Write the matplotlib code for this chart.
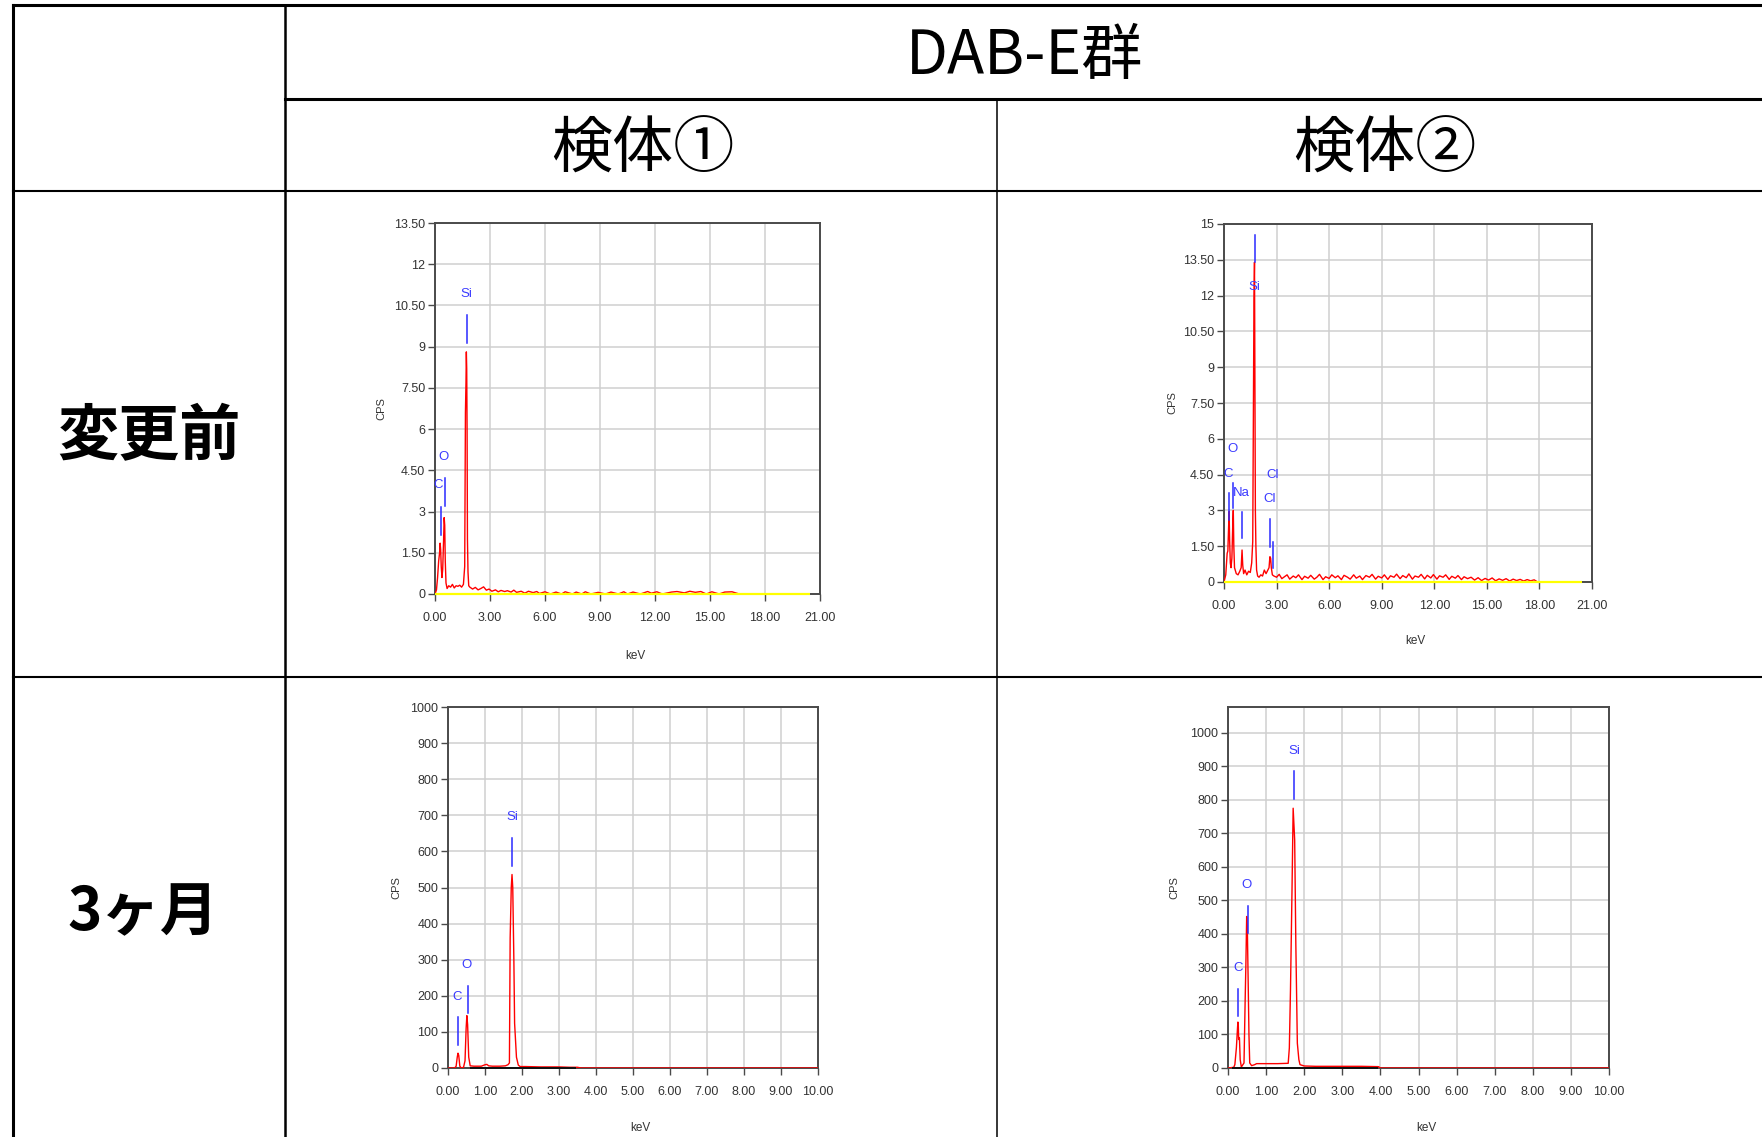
import matplotlib.pyplot as plt
from matplotlib.lines import Line2D

# 見出しは日本語フォント、スペクトルの目盛りは細めの欧文フォント
plt.rcParams['font.family'] = ['Noto Sans CJK JP', 'DejaVu Sans']
spec_font = ['Liberation Sans Narrow', 'Liberation Sans', 'DejaVu Sans']

W, H = 1762, 1137  # 出力サイズ(px)

# 表の見出し
group_title = 'DAB-E群'
sample_names = ['検体①', '検体②']
period_names = ['変更前', '3ヶ月']

# EDSスペクトル (keV, cps)
# 変更前・検体①
pre_1 = [(0.00, 0.0), (0.08, 0.15), (0.14, 0.6), (0.20, 1.2), (0.25, 1.5), (0.28, 1.85),
         (0.31, 1.6), (0.34, 1.0), (0.38, 0.6), (0.42, 0.9), (0.47, 2.0), (0.50, 2.78),
         (0.53, 2.5), (0.56, 1.2), (0.60, 0.4), (0.66, 0.2), (0.75, 0.3), (0.85, 0.25),
         (0.95, 0.35), (1.05, 0.22), (1.15, 0.3), (1.25, 0.28), (1.35, 0.32), (1.45, 0.25),
         (1.55, 0.35), (1.62, 1.0), (1.66, 6.6), (1.69, 7.7), (1.71, 8.81), (1.73, 8.2),
         (1.75, 6.0), (1.77, 2.0), (1.80, 0.8), (1.84, 0.3), (1.90, 0.25), (2.05, 0.18),
         (2.20, 0.24), (2.35, 0.15), (2.50, 0.2), (2.65, 0.26), (2.80, 0.14), (2.95, 0.18),
         (3.10, 0.1), (3.30, 0.15), (3.45, 0.08), (3.60, 0.13), (3.80, 0.09), (3.95, 0.12),
         (4.15, 0.07), (4.30, 0.14), (4.45, 0.06), (4.70, 0.1), (4.90, 0.03), (5.10, 0.1),
         (5.35, 0.05), (5.55, 0.09), (5.70, 0.02), (6.00, 0.08), (6.30, 0.0), (6.60, 0.07),
         (6.90, 0.0), (7.10, 0.08), (7.50, 0.0), (7.70, 0.07), (8.00, 0.0), (8.20, 0.08),
         (8.50, 0.0), (8.90, 0.06), (9.30, 0.0), (9.60, 0.07), (10.0, 0.0), (10.3, 0.08),
         (10.5, 0.0), (10.8, 0.07), (11.2, 0.0), (11.6, 0.09), (11.8, 0.03), (12.1, 0.08),
         (12.4, 0.0), (12.9, 0.07), (13.2, 0.09), (13.6, 0.04), (13.9, 0.1), (14.2, 0.06),
         (14.5, 0.09), (14.8, 0.0), (15.1, 0.08), (15.5, 0.0), (15.8, 0.07), (16.2, 0.08),
         (16.6, 0.0)]

# 変更前・検体②
pre_2 = [(0.00, 0.0), (0.10, 0.3), (0.18, 1.2), (0.22, 1.3), (0.26, 2.2), (0.29, 2.95),
         (0.32, 1.8), (0.36, 0.8), (0.40, 0.6), (0.45, 1.0), (0.50, 2.4), (0.53, 3.0),
         (0.56, 1.5), (0.60, 0.6), (0.70, 0.35), (0.80, 0.3), (0.90, 0.45), (0.98, 0.6),
         (1.03, 1.34), (1.07, 0.7), (1.12, 0.35), (1.20, 0.5), (1.30, 0.3), (1.40, 0.45),
         (1.50, 0.4), (1.58, 0.8), (1.64, 1.7), (1.68, 7.6), (1.71, 11.8), (1.74, 13.4),
         (1.76, 9.0), (1.79, 3.0), (1.82, 1.5), (1.86, 0.5), (1.92, 0.25), (2.00, 0.2),
         (2.10, 0.3), (2.20, 0.25), (2.30, 0.5), (2.40, 0.35), (2.50, 0.5), (2.57, 0.6),
         (2.62, 1.06), (2.66, 1.0), (2.70, 0.6), (2.76, 0.3), (2.85, 0.25), (3.00, 0.2),
         (3.15, 0.32), (3.30, 0.14), (3.45, 0.22), (3.60, 0.3), (3.75, 0.12), (3.95, 0.25),
         (4.10, 0.18), (4.25, 0.3), (4.45, 0.1), (4.60, 0.24), (4.80, 0.16), (4.95, 0.28),
         (5.15, 0.12), (5.30, 0.2), (5.45, 0.32), (5.65, 0.1), (5.80, 0.22), (6.00, 0.15),
         (6.15, 0.3), (6.35, 0.18), (6.50, 0.26), (6.70, 0.1), (6.85, 0.28), (7.05, 0.2),
         (7.20, 0.12), (7.40, 0.3), (7.55, 0.16), (7.75, 0.25), (7.90, 0.1), (8.10, 0.27),
         (8.30, 0.2), (8.45, 0.32), (8.65, 0.12), (8.80, 0.24), (9.00, 0.17), (9.15, 0.3),
         (9.35, 0.11), (9.50, 0.26), (9.70, 0.2), (9.85, 0.33), (10.05, 0.14), (10.2, 0.27),
         (10.4, 0.18), (10.55, 0.34), (10.75, 0.12), (10.9, 0.25), (11.1, 0.2), (11.25, 0.32),
         (11.45, 0.13), (11.6, 0.28), (11.8, 0.17), (11.95, 0.31), (12.15, 0.12), (12.3, 0.26),
         (12.5, 0.2), (12.65, 0.3), (12.85, 0.11), (13.0, 0.24), (13.2, 0.16), (13.35, 0.27),
         (13.55, 0.1), (13.7, 0.22), (13.9, 0.14), (14.1, 0.2), (14.3, 0.08), (14.5, 0.18),
         (14.7, 0.06), (14.9, 0.15), (15.1, 0.08), (15.3, 0.17), (15.5, 0.05), (15.7, 0.13),
         (15.9, 0.07), (16.1, 0.14), (16.3, 0.04), (16.5, 0.12), (16.7, 0.06), (16.9, 0.11),
         (17.1, 0.04), (17.3, 0.1), (17.5, 0.05), (17.7, 0.09), (17.9, 0.0)]

# 3ヶ月・検体①
m3_1 = [(0.00, 0), (0.18, 0), (0.22, 5), (0.25, 30), (0.27, 41), (0.29, 35), (0.32, 5),
        (0.36, 0), (0.42, 2), (0.46, 20), (0.49, 110), (0.51, 145), (0.53, 120), (0.56, 30),
        (0.60, 6), (0.70, 5), (0.90, 5), (1.00, 9), (1.05, 10), (1.10, 6), (1.20, 5),
        (1.40, 5), (1.55, 6), (1.62, 9), (1.66, 14), (1.68, 360), (1.71, 500), (1.73, 536),
        (1.75, 500), (1.78, 300), (1.80, 124), (1.85, 30), (1.90, 8), (1.95, 4), (2.10, 4),
        (2.50, 3), (3.00, 3), (3.30, 2), (3.50, 2), (3.60, 0), (10.0, 0)]

# 3ヶ月・検体②
m3_2 = [(0.00, 0), (0.15, 2), (0.18, 10), (0.22, 60), (0.25, 120), (0.26, 137), (0.27, 130),
        (0.28, 85), (0.30, 90), (0.32, 25), (0.35, 3), (0.42, 15), (0.45, 200), (0.47, 313),
        (0.49, 452), (0.51, 400), (0.53, 253), (0.55, 100), (0.57, 15), (0.62, 7), (0.70, 10),
        (0.75, 13), (1.00, 13), (1.30, 13), (1.58, 14), (1.61, 60), (1.64, 233), (1.68, 531),
        (1.71, 775), (1.75, 680), (1.78, 372), (1.82, 74), (1.86, 25), (1.89, 10), (2.00, 6),
        (2.30, 5), (3.00, 5), (3.50, 5), (3.95, 4), (4.00, 0), (10.0, 0)]

# バックグラウンド線
base_pre_1 = [(0.0, 0), (20.45, 0)]
base_pre_2 = [(0.0, 0), (20.45, 0)]
base_m3_1 = [(0.6, 1), (3.45, 1)]
base_m3_2 = [(0.1, 1), (3.95, 1)]

# ピーク同定: 元素, 縦線のkeV, 縦線下端, 縦線上端, ラベルkeV, ラベル高さ
peaks_pre_1 = [('C', 0.31, 2.15, 3.18, 0.18, 3.97),
               ('O', 0.56, 3.21, 4.21, 0.49, 4.98),
               ('Si', 1.73, 9.14, 10.15, 1.73, 10.93)]
peaks_pre_2 = [('C', 0.30, 2.6, 3.72, 0.23, 4.52),
               ('O', 0.53, 3.09, 4.16, 0.48, 5.56),
               ('Na', 1.03, 1.83, 2.95, 1.0, 3.74),
               ('Si', 1.75, 13.42, 14.54, 1.73, 12.35),
               ('Cl', 2.61, 1.48, 2.63, 2.61, 3.48),
               ('Cl', 2.80, 0.57, 1.69, 2.80, 4.48)]
peaks_m3_1 = [('C', 0.28, 65, 140, 0.26, 198),
              ('O', 0.53, 152, 228, 0.50, 285),
              ('Si', 1.74, 560, 636, 1.74, 696)]
peaks_m3_2 = [('C', 0.27, 156, 236, 0.26, 298),
              ('O', 0.52, 404, 484, 0.49, 546),
              ('Si', 1.74, 804, 886, 1.73, 946)]

# 軸目盛り
x_ticks_wide = [0, 3, 6, 9, 12, 15, 18, 21]
x_labels_wide = ['0.00', '3.00', '6.00', '9.00', '12.00', '15.00', '18.00', '21.00']
x_ticks_narrow = [0, 1, 2, 3, 4, 5, 6, 7, 8, 9, 10]
x_labels_narrow = ['0.00', '1.00', '2.00', '3.00', '4.00', '5.00', '6.00', '7.00', '8.00', '9.00', '10.00']
y_ticks_pre_1 = [0, 1.5, 3, 4.5, 6, 7.5, 9, 10.5, 12, 13.5]
y_labels_pre_1 = ['0', '1.50', '3', '4.50', '6', '7.50', '9', '10.50', '12', '13.50']
y_ticks_pre_2 = [0, 1.5, 3, 4.5, 6, 7.5, 9, 10.5, 12, 13.5, 15]
y_labels_pre_2 = ['0', '1.50', '3', '4.50', '6', '7.50', '9', '10.50', '12', '13.50', '15']
y_ticks_m3 = [0, 100, 200, 300, 400, 500, 600, 700, 800, 900, 1000]
y_labels_m3 = [str(v) for v in y_ticks_m3]

fig = plt.figure(figsize=(W / 100, H / 100), dpi=100)


def px_axes(x0, top, x1, bottom):
    # ピクセル座標で軸を配置
    return fig.add_axes([x0 / W, 1 - bottom / H, (x1 - x0) / W, (bottom - top) / H])


def draw_spectrum(ax, pts, xmax, xticks, xlabels, ymax, yticks, ylabels,
                  peaks, base, base_color, base_lw):
    e, c = zip(*pts)
    ax.plot(e, c, color='#ff0000', lw=1.0, zorder=3)
    be, bc = zip(*base)
    # ベースラインは下の枠線に重ねて描く
    ax.plot(be, bc, color=base_color, lw=base_lw, zorder=4,
            solid_capstyle='butt', clip_on=False)
    for name, pe, y0, y1, lx, ly in peaks:
        ax.plot([pe, pe], [y0, y1], color='#2a2aff', lw=1.1, zorder=5)
        ax.text(lx, ly, name, color='#3b3bff', ha='center', va='center',
                fontsize=9.5, family=spec_font, zorder=6)
    ax.set_xlim(0, xmax)
    ax.set_ylim(0, ymax)
    ax.set_xticks(xticks)
    ax.set_xticklabels(xlabels, family=spec_font)
    ax.set_yticks(yticks)
    ax.set_yticklabels(ylabels, family=spec_font)
    ax.grid(True, color='#cfcfcf', lw=1.1)
    ax.set_axisbelow(True)
    for s in ax.spines.values():
        s.set_color('#4a4a4a')
        s.set_linewidth(1.4)
    ax.tick_params(axis='both', direction='out', length=5, width=1.0,
                   color='#4a4a4a', labelsize=9, labelcolor='#333333')
    ax.tick_params(axis='x', pad=8)
    ax.tick_params(axis='y', pad=2)
    ax.text(-0.14, 0.5, 'CPS', transform=ax.transAxes, rotation=90,
            ha='center', va='center', fontsize=8, color='#333333', family=spec_font)
    ax.text(0.52, -0.166, 'keV', transform=ax.transAxes,
            ha='center', va='center', fontsize=8.5, color='#333333', family=spec_font)


ax1 = px_axes(435, 223, 820, 594)
draw_spectrum(ax1, pre_1, 21, x_ticks_wide, x_labels_wide, 13.5,
              y_ticks_pre_1, y_labels_pre_1, peaks_pre_1, base_pre_1, '#ffff00', 1.6)

ax2 = px_axes(1224, 224, 1592, 582)
draw_spectrum(ax2, pre_2, 21, x_ticks_wide, x_labels_wide, 15,
              y_ticks_pre_2, y_labels_pre_2, peaks_pre_2, base_pre_2, '#ffff00', 1.6)

ax3 = px_axes(448, 707, 818, 1068)
draw_spectrum(ax3, m3_1, 10, x_ticks_narrow, x_labels_narrow, 1000,
              y_ticks_m3, y_labels_m3, peaks_m3_1, base_m3_1, '#111111', 1.4)

ax4 = px_axes(1228, 707, 1609, 1068)
draw_spectrum(ax4, m3_2, 10, x_ticks_narrow, x_labels_narrow, 1077,
              y_ticks_m3, y_labels_m3, peaks_m3_2, base_m3_2, '#111111', 1.4)


# 表の罫線
def rule(xs, ys, lw):
    fig.add_artist(Line2D([x / W for x in xs], [1 - y / H for y in ys],
                          color='black', lw=lw, transform=fig.transFigure))


rule([12.5, W], [4.7, 4.7], 2.2)
rule([12.5, 12.5], [4.7, H], 2.2)
rule([285, 285], [4.7, H], 1.8)
rule([285, W], [99, 99], 2.2)
rule([997, 997], [99, H], 1.1)
rule([12.5, W], [191, 191], 1.5)
rule([12.5, W], [677, 677], 1.5)

# 見出し
fig.text(1025 / W, 1 - 57 / H, group_title, ha='center', va='center', fontsize=44)
fig.text(643 / W, 1 - 150 / H, sample_names[0], ha='center', va='center', fontsize=44)
fig.text(1385 / W, 1 - 150 / H, sample_names[1], ha='center', va='center', fontsize=44)
fig.text(149 / W, 1 - 437 / H, period_names[0], ha='center', va='center',
         fontsize=44, fontweight='bold')
fig.text(143 / W, 1 - 913 / H, period_names[1], ha='center', va='center',
         fontsize=42, fontweight='bold')

fig.savefig('out.png', dpi=100)
